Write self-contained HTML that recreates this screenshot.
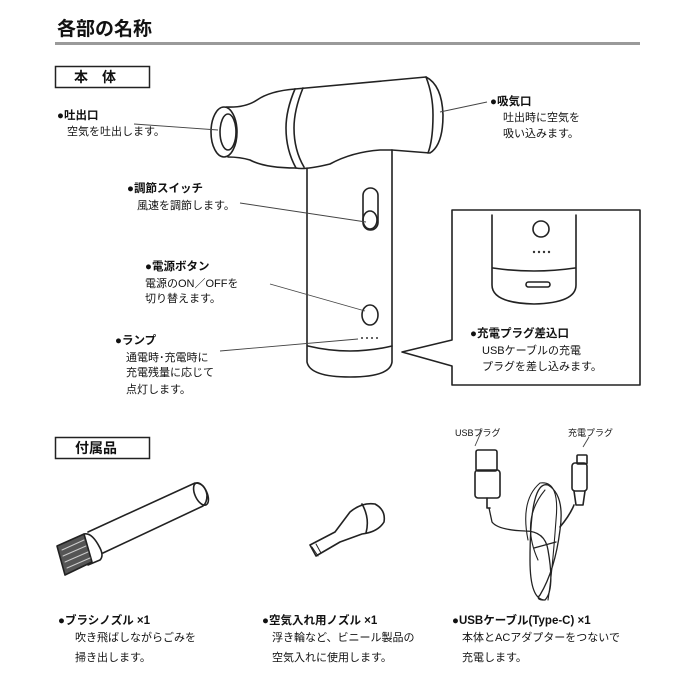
<!DOCTYPE html>
<html><head><meta charset="utf-8"><style>
body{margin:0;background:#fff}
svg{display:block}
text{font-family:"Liberation Sans","Noto Sans CJK JP",sans-serif;fill:#111}
.b{font-weight:bold;font-size:11.5px}
.n{font-size:11px}
</style></head><body>
<svg width="700" height="700" viewBox="0 0 700 700">
<text x="57" y="35" font-size="19" font-weight="bold">各部の名称</text>
<rect x="55" y="42" width="585" height="3" fill="#9a9a9a"/>
<rect x="55.5" y="66.5" width="94" height="21" fill="none" stroke="#222" stroke-width="1.5"/>
<text x="74" y="82" font-size="14" font-weight="bold">本　体</text>
<rect x="55.5" y="437.5" width="94" height="21" fill="none" stroke="#222" stroke-width="1.5"/>
<text x="75" y="453" font-size="14" font-weight="bold">付属品</text>

<g fill="none" stroke="#222" stroke-width="1.6" stroke-linejoin="round" stroke-linecap="round">
<!-- handle -->
<path d="M307 168 L307 362 Q310 377 350 377 Q390 377 392 362 L392 150"/>
<path d="M308 346 Q350 356 392 346"/>
<!-- body top / back -->
<path d="M295 89 L426 77 Q442 85 443 115 Q443 145 430 153 L392 150"/>
<path d="M426 77 Q433 95 433 115 Q433 140 428 153"/>
<!-- shoulder -->
<path d="M296 168 Q305 170 330 164 Q352 152 380 150 L392 150"/>
<!-- ring -->
<path d="M295 89 Q286 110 286 128 Q286 150 296 168"/>
<path d="M303 88 Q294 110 294 128 Q294 150 304 167"/>
<!-- nozzle -->
<path d="M295 89 Q270 91 257 100 Q245 108 226 107"/>
<path d="M296 168 Q265 168 250 160 Q240 157 228 157"/>
<ellipse cx="224" cy="132" rx="13" ry="25"/>
<ellipse cx="228" cy="132" rx="8" ry="18"/>
<!-- switch -->
<rect x="363" y="188" width="15" height="42" rx="7.5"/>
<ellipse cx="370" cy="220" rx="7" ry="9"/>
<!-- button -->
<ellipse cx="370" cy="315" rx="8" ry="10"/>
<!-- callout -->
<path d="M452 210 L640 210 L640 385 L452 385 L452 366 L402 352 L452 340 Z"/>
<path d="M492 215 L492 285 Q492 303 534 304 Q576 303 576 285 L576 215"/>
<path d="M493 268 Q534 274 575 268"/>
<rect x="526" y="282" width="24" height="5" rx="2.5"/>
<circle cx="541" cy="229" r="8"/>
<!-- brush -->
<path d="M88 532 L195 483 Q205 483 207 495 Q207 503 203 506 L103 553"/>
<ellipse cx="201" cy="494" rx="6" ry="12" transform="rotate(-25 201 494)"/>
<path d="M84 534 Q92 532 100 548 Q104 556 100 560 L88 565"/>
<path d="M57 546 L84 534 L92 562 L65 575 Z" fill="#555"/>
<path d="M62 550 L84 540 M63 556 L86 546 M65 562 L88 552 M67 568 L90 558" stroke="#ccc" stroke-width="1"/>
<!-- air nozzle -->
<path d="M310 545 L335 532 L350 512 Q362 502 375 504 Q386 510 384 522 Q378 532 362 534 L340 542 L316 556 Z"/>
<path d="M362 504 Q370 518 366 533"/>
<path d="M312 547 L318 556 M316 544 L321 553" stroke-width="1"/>
<!-- cable -->
<rect x="476" y="450" width="21" height="21" rx="2"/>
<rect x="475" y="470" width="25" height="28" rx="3"/>
<path d="M487 498 L487 508 L490 508"/>
<path d="M489 508 L492 522 Q498 530 525 531 Q545 531 548 550 Q555 590 545 600 Q530 600 530 560 Q530 480 548 485 Q565 495 560 530 Q555 570 540 595 Q535 600 545 600" stroke-width="1.3"/>
<path d="M528 540 Q520 500 540 483 Q560 480 556 520 Q552 575 548 600 M538 560 Q520 520 545 490" stroke-width="1.1"/>
<path d="M534 548 Q545 545 556 542" stroke-width="1.3"/>
<path d="M560 527 Q570 515 574 505"/>
<rect x="572" y="463" width="15" height="28" rx="3"/>
<rect x="577" y="455" width="10" height="9" rx="1"/>
<path d="M574 491 L576 505 L583 505 L585 491"/>
</g>
<g stroke="#444" stroke-width="0.9">
<line x1="134" y1="124" x2="218" y2="130"/>
<line x1="440" y1="112" x2="487" y2="102"/>
<line x1="240" y1="203" x2="366" y2="222"/>
<line x1="270" y1="284" x2="365" y2="311"/>
<line x1="220" y1="351" x2="358" y2="339"/>
<line x1="475" y1="446" x2="482" y2="430"/>
<line x1="583" y1="447" x2="589" y2="437"/>
</g>
<g fill="#333"><circle cx="362" cy="338" r="1"/><circle cx="367" cy="338" r="1"/><circle cx="372" cy="338" r="1"/><circle cx="377" cy="338" r="1"/>
<circle cx="534" cy="252" r="1.2"/><circle cx="539" cy="252" r="1.2"/><circle cx="544" cy="252" r="1.2"/><circle cx="549" cy="252" r="1.2"/></g>

<text class="b" x="57" y="119">●吐出口</text>
<text class="n" x="67" y="135">空気を吐出します。</text>
<text class="b" x="490" y="105">●吸気口</text>
<text class="n" x="503" y="121">吐出時に空気を</text>
<text class="n" x="503" y="137">吸い込みます。</text>
<text class="b" x="127" y="192">●調節スイッチ</text>
<text class="n" x="137" y="209">風速を調節します。</text>
<text class="b" x="145" y="270">●電源ボタン</text>
<text class="n" x="145" y="287">電源のON／OFFを</text>
<text class="n" x="145" y="302">切り替えます。</text>
<text class="b" x="115" y="344">●ランプ</text>
<text class="n" x="126" y="361">通電時･充電時に</text>
<text class="n" x="126" y="376">充電残量に応じて</text>
<text class="n" x="126" y="393">点灯します。</text>
<text class="b" x="470" y="337">●充電プラグ差込口</text>
<text class="n" x="482" y="354">USBケーブルの充電</text>
<text class="n" x="482" y="370">プラグを差し込みます。</text>
<text x="455" y="436" font-size="9">USBプラグ</text>
<text x="568" y="436" font-size="9">充電プラグ</text>
<text class="b" x="58" y="624" font-size="12">●ブラシノズル ×1</text>
<text class="n" x="75" y="641">吹き飛ばしながらごみを</text>
<text class="n" x="75" y="661">掃き出します。</text>
<text class="b" x="262" y="624" font-size="12">●空気入れ用ノズル ×1</text>
<text class="n" x="272" y="641">浮き輪など、ビニール製品の</text>
<text class="n" x="272" y="661">空気入れに使用します。</text>
<text class="b" x="452" y="624" font-size="12">●USBケーブル(Type-C) ×1</text>
<text class="n" x="462" y="641">本体とACアダプターをつないで</text>
<text class="n" x="462" y="661">充電します。</text>
</svg>
</body></html>
